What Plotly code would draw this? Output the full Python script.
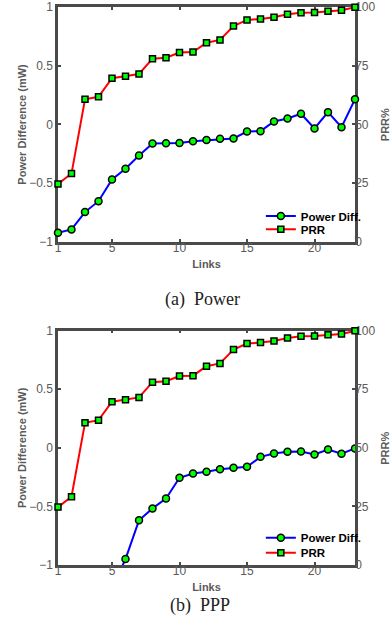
import plotly.graph_objects as go

links = list(range(1, 24))

# (a) Power
power_diff_a = [-0.922, -0.894, -0.746, -0.653, -0.468, -0.377, -0.264, -0.162, -0.160, -0.158,
                -0.142, -0.133, -0.122, -0.119, -0.060, -0.057, 0.026, 0.051, 0.091, -0.034,
                0.105, -0.023, 0.215]
prr = [24.7, 29.1, 60.7, 61.8, 69.7, 70.5, 71.5, 78.0, 78.4, 80.6,
       80.8, 84.8, 86.0, 91.9, 94.5, 94.9, 95.6, 96.9, 97.6, 97.7,
       98.2, 98.6, 99.9]

# (b) PPP  (first links fall below the visible range)
power_diff_b = [None, None, None, None, -1.2, -0.949, -0.619, -0.517, -0.432, -0.256,
                -0.219, -0.205, -0.182, -0.170, -0.162, -0.077, -0.048, -0.034, -0.031, -0.057,
                -0.014, -0.051, -0.005]

y_ticks = [-1, -0.5, 0, 0.5, 1]
y_ticktext = ["\u22121", "\u22120.5", "0", "0.5", "1"]
prr_ticks = [0, 25, 50, 75, 100]
x_ticks = [1, 5, 10, 15, 20]

AX = "#4a4a4a"
TXT = "#5a5a5a"
SANS = "Liberation Sans, Arial, sans-serif"
SERIF = "Liberation Serif, Times New Roman, serif"

fig = go.Figure()

def add_pair(xa, ya, ya2, pdiff, leg_a, leg_b, clip):
    fig.add_trace(go.Scatter(
        x=links, y=pdiff, name="Power Diff.", xaxis=xa, yaxis=ya, legend=leg_a,
        mode="lines+markers", cliponaxis=clip, connectgaps=False, showlegend=True,
        line=dict(color="#0000ff", width=2),
        marker=dict(symbol="circle", size=7, color="#00ff00", line=dict(color="black", width=1.5)),
    ))
    fig.add_trace(go.Scatter(
        x=links, y=prr, name="PRR", xaxis=xa, yaxis=ya2, legend=leg_b,
        mode="lines+markers", cliponaxis=False, showlegend=True,
        line=dict(color="#ff0000", width=2),
        marker=dict(symbol="square", size=6, color="#00ff00", line=dict(color="black", width=1.5)),
    ))

add_pair("x", "y", "y2", power_diff_a, "legend", "legend2", False)
add_pair("x2", "y3", "y4", power_diff_b, "legend3", "legend4", True)

tickfont = dict(family=SANS, size=12, color=TXT)
titlefont = dict(family=SANS, size=11, color=TXT)

def xaxis(anchor):
    return dict(domain=[0, 1], anchor=anchor, range=[1, 23], tickvals=x_ticks,
                showline=True, linecolor=AX, linewidth=2.5, mirror="ticks",
                ticks="inside", ticklen=3, tickwidth=1.5, tickcolor=AX,
                ticklabelstandoff=-7,
                showgrid=False, zeroline=False, tickfont=tickfont, layer="below traces",
                title=dict(text="<b>Links</b>", font=titlefont, standoff=7))

def yleft(domain, anchor):
    return dict(domain=domain, anchor=anchor, range=[-1, 1], tickvals=y_ticks, ticktext=y_ticktext,
                showline=True, linecolor=AX, linewidth=2.5,
                ticks="inside", ticklen=3, tickwidth=1.5, tickcolor=AX,
                showgrid=False, zeroline=False, tickfont=tickfont, layer="below traces",
                title=dict(text="<b>Power Difference (mW)</b>", font=titlefont, standoff=1))

def yright(overlay, anchor):
    return dict(overlaying=overlay, anchor=anchor, side="right", range=[0, 100], tickvals=prr_ticks,
                showline=True, linecolor=AX, linewidth=2.5,
                ticks="inside", ticklen=3, tickwidth=1.5, tickcolor=AX,
                ticklabelstandoff=-5,
                showgrid=False, zeroline=False, tickfont=tickfont, layer="below traces")

def leg(y):
    return dict(x=0.683, y=y, xanchor="left", yanchor="middle",
                font=dict(family=SANS, size=11.5, color="black", weight="bold"),
                bgcolor="rgba(0,0,0,0)", itemwidth=30)

prr_title = dict(family=SANS, size=11, color=TXT)

fig.update_layout(
    width=391, height=634,
    showlegend=True,
    margin=dict(l=58, r=36, t=7, b=69, autoexpand=False),
    paper_bgcolor="white", plot_bgcolor="white",
    xaxis=xaxis("y"),
    yaxis=yleft([0.579, 1], "x"),
    yaxis2=yright("y", "x"),
    xaxis2=xaxis("y3"),
    yaxis3=yleft([0, 0.42], "x2"),
    yaxis4=yright("y3", "x2"),
    legend=leg(0.6254),
    legend2=leg(0.6016),
    legend3=leg(0.0489),
    legend4=leg(0.0220),
    annotations=[
        dict(text="<b>PRR%</b>", xref="paper", yref="paper", x=1.101, y=0.79,
             xanchor="center", yanchor="middle",
             textangle=-90, showarrow=False, font=prr_title),
        dict(text="<b>PRR%</b>", xref="paper", yref="paper", x=1.101, y=0.21,
             xanchor="center", yanchor="middle",
             textangle=-90, showarrow=False, font=prr_title),
        dict(text="(a)  Power", xref="paper", yref="paper", x=0.488, y=0.4767,
             showarrow=False, font=dict(family=SERIF, size=18, color="#222")),
        dict(text="(b)  PPP", xref="paper", yref="paper", x=0.478, y=-0.095,
             showarrow=False, font=dict(family=SERIF, size=18, color="#222")),
    ],
)

fig.write_html("out.html", config={"displayModeBar": False},
               post_script="document.body.style.margin='0';")
